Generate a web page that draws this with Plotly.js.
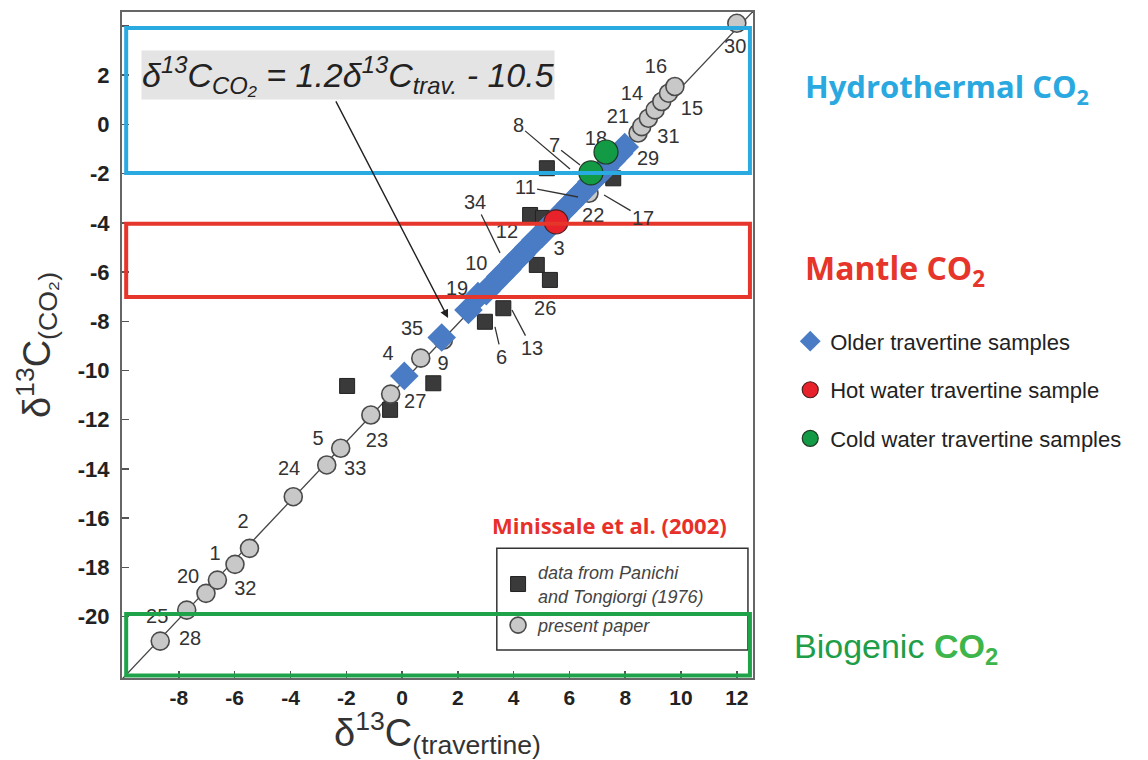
<!DOCTYPE html>
<html>
<head>
<meta charset="utf-8">
<script src="https://cdn.plot.ly/plotly-3.0.1.min.js"></script>
<style>html,body{margin:0;padding:0;background:#fff;}#chart{width:1148px;height:760px;}</style>
</head>
<body>
<div id="chart"></div>
<script>
// ---- Data ----
// Regression stated in the figure: d13C(CO2) = 1.2 d13C(trav) - 10.5
const slope = 1.2;
const intercept = -10.5;
const lineX = [-10.1, 12.6];

// present paper (grey circles)
const circX = [-8.67, -7.72, -7.03, -6.62, -5.99, -5.47, -3.90, -2.70, -2.20, -1.12, -0.41, 0.67, 1.48, 6.70, 8.46, 8.59, 8.83, 9.07, 9.31, 9.55, 9.78, 12.0];
const circY = [-21.00, -19.74, -19.06, -18.52, -17.88, -17.23, -15.13, -13.84, -13.16, -11.81, -10.96, -9.50, -8.76, -2.80, -0.35, -0.09, 0.25, 0.59, 0.93, 1.27, 1.54, 4.11];

// data from Panichi and Tongiorgi (1976) (black squares)
const sqX = [5.19, 7.57, 4.59, 5.05, 4.83, 5.30, 3.63, 2.97, 1.12, -0.43, -1.97];
const sqY = [-1.78, -2.19, -3.68, -3.80, -5.71, -6.32, -7.47, -8.02, -10.52, -11.60, -10.63];

// Older travertine samples (blue diamonds)
const diaX = [0.08, 1.42, 2.38, 2.72, 3.02, 3.28, 3.52, 3.78, 4.02, 4.28, 4.52, 4.78, 5.02, 5.28, 5.52, 5.78, 6.02, 6.28, 6.52, 6.78, 7.02, 7.28, 7.52, 7.78, 7.98];
const diaY = [-10.22, -8.66, -7.54, -6.98, -6.78, -6.48, -6.18, -5.90, -5.58, -5.30, -5.00, -4.70, -4.44, -4.12, -3.84, -3.52, -3.24, -2.94, -2.66, -2.34, -2.06, -1.78, -1.48, -1.18, -0.92];

// Hot water travertine sample (red) / Cold water travertine samples (green)
const hotX = [5.52];
const hotY = [-3.96];
const coldX = [6.77, 7.31];
const coldY = [-1.97, -1.12];

// sample number labels without leader lines
const labText = ['30','16','14','15','21','31','29','18','22','12','3','10','19','26','35','4','9','27','23','5','33','24','2','1','32','20','25','28'];
const labX = [11.94, 9.10, 8.24, 10.39, 7.74, 9.55, 8.82, 6.95, 6.85, 3.76, 5.63, 2.66, 1.97, 5.13, 0.36, -0.50, 1.47, 0.47, -0.90, -3.01, -1.68, -4.05, -5.70, -6.70, -5.62, -7.67, -8.78, -7.60];
const labY = [3.11, 2.30, 1.20, 0.59, 0.26, -0.55, -1.44, -0.63, -3.76, -4.41, -5.10, -5.70, -6.73, -7.54, -8.35, -9.37, -9.78, -11.34, -12.90, -12.83, -14.04, -14.04, -16.20, -17.50, -18.92, -18.43, -20.05, -20.96];

// labels with leader lines: text position -> pointed position
const leadText = ['8','7','11','17','34','13','6'];
const leadTx = [4.16, 5.45, 4.41, 8.64, 2.62, 4.66, 3.58];
const leadTy = [-0.02, -0.83, -2.54, -3.80, -3.15, -9.09, -9.45];
const leadPx = [6.02, 6.38, 6.31, 7.24, 3.51, 3.94, 3.33];
const leadPy = [-1.81, -1.65, -2.95, -2.87, -5.22, -7.54, -8.23];

const xTicks = [-8, -6, -4, -2, 0, 2, 4, 6, 8, 10, 12];
const xTickText = ['-8','-6','-4','-2','0','2','4','6','8','10','12'];
const yTicks = [-20, -18, -16, -14, -12, -10, -8, -6, -4, -2, 0, 2, 4];
const yTickText = ['-20','-18','-16','-14','-12','-10','-8','-6','-4','-2','0','2',''];

// ---- Chart ----
const F = 'Liberation Sans, Arial, sans-serif';
const lineY = lineX.map(v => slope * v + intercept);

const traces = [
  {x: lineX, y: lineY, mode: 'lines', line: {color: '#444', width: 1.3}, showlegend: false, hoverinfo: 'skip'},
  {x: sqX, y: sqY, mode: 'markers', name: 'data from Panichi<br>and Tongiorgi (1976)', legend: 'legend2', legendgroup: 'a',
   marker: {symbol: 'square', size: 15, color: '#3a3a3a', line: {color: '#222', width: 1}}},
  {x: circX, y: circY, mode: 'markers', name: 'present paper', legend: 'legend2', legendgroup: 'b',
   marker: {symbol: 'circle', size: 18, color: '#c8c8c8', line: {color: '#4a4a4a', width: 1.6}}},
  {x: labX, y: labY, text: labText, mode: 'text', textfont: {family: F, size: 20, color: '#333'}, showlegend: false, hoverinfo: 'skip'},
  {x: diaX, y: diaY, mode: 'markers', name: 'Older travertine samples', legendgroup: 'c',
   marker: {symbol: 'diamond', size: 22, color: '#4a7cc6', line: {width: 0}}},
  {x: hotX, y: hotY, mode: 'markers', name: 'Hot water travertine sample', legendgroup: 'd',
   marker: {symbol: 'circle', size: 24, color: '#e8222b', line: {color: '#4a2020', width: 1.2}}},
  {x: coldX, y: coldY, mode: 'markers', name: 'Cold water travertine samples', legendgroup: 'e',
   marker: {symbol: 'circle', size: 24, color: '#129a45', line: {color: '#1f3a25', width: 1.2}}}
];

const annotations = [];
for (let i = 0; i < leadText.length; i++) {
  annotations.push({x: leadPx[i], y: leadPy[i], ax: leadTx[i], ay: leadTy[i], axref: 'x', ayref: 'y', xref: 'x', yref: 'y',
    text: leadText[i], showarrow: true, arrowhead: 0, arrowwidth: 1.3, arrowcolor: '#333', standoff: 0,
    font: {family: F, size: 20, color: '#333'}});
}
annotations.push(
  {x: 1.65, y: -7.87, ax: -2.40, ay: 1.0, axref: 'x', ayref: 'y', xref: 'x', yref: 'y', text: '', showarrow: true,
   arrowhead: 2, arrowsize: 1.2, arrowwidth: 1.4, arrowcolor: '#222'},
  {xref: 'x', yref: 'y', x: -9.35, y: 2.0, xanchor: 'left', yanchor: 'middle', showarrow: false,
   text: 'δ<sup>13</sup>C<sub>CO₂</sub> = 1.2δ<sup>13</sup>C<sub>trav.</sub> - 10.5',
   font: {family: F, size: 34, color: '#222', style: 'italic'}, bgcolor: '#e4e4e4', borderpad: 0},
  {xref: 'paper', yref: 'paper', x: 1.079, y: 0.886, xanchor: 'left', yanchor: 'middle', showarrow: false,
   text: 'Hydrothermal CO<sub>2</sub>', font: {family: 'Open Sans, sans-serif', size: 31, color: '#2aa8e0', weight: 'bold'}},
  {xref: 'paper', yref: 'paper', x: 1.079, y: 0.613, xanchor: 'left', yanchor: 'middle', showarrow: false,
   text: 'Mantle CO<sub>2</sub>', font: {family: 'Open Sans, sans-serif', size: 32, color: '#e6352a', weight: 'bold'}},
  {xref: 'paper', yref: 'paper', x: 1.062, y: 0.045, xanchor: 'left', yanchor: 'middle', showarrow: false,
   text: 'Biogenic <span style="color:#3db54a;font-weight:bold">CO<sub>2</sub></span>',
   font: {family: F, size: 34, color: '#1e9e48'}},
  {xref: 'paper', yref: 'paper', x: 0.583, y: 0.229, xanchor: 'left', yanchor: 'middle', showarrow: false,
   text: 'Minissale et al. (2002)', font: {family: 'Open Sans, sans-serif', size: 22, color: '#e8302a', weight: 'bold'}}
);

const shapes = [
  {type: 'rect', xref: 'paper', yref: 'paper', x0: 0.594, x1: 0.992, y0: 0.042, y1: 0.195, line: {color: '#333', width: 1.5}, fillcolor: 'rgba(255,255,255,0)', layer: 'above'},
  {type: 'rect', xref: 'x', yref: 'y', x0: -9.89, x1: 12.47, y0: -1.97, y1: 3.92, line: {color: '#29aae1', width: 4}, layer: 'above'},
  {type: 'rect', xref: 'x', yref: 'y', x0: -9.89, x1: 12.47, y0: -7.01, y1: -4.04, line: {color: '#e6352a', width: 4}, layer: 'above'},
  {type: 'rect', xref: 'x', yref: 'y', x0: -9.89, x1: 12.47, y0: -22.4, y1: -19.9, line: {color: '#1ea34a', width: 4}, layer: 'above'}
];

const layout = {
  width: 1148, height: 760,
  margin: {l: 122, r: 395, t: 12, b: 82},
  paper_bgcolor: '#fff', plot_bgcolor: '#fff',
  font: {family: F, color: '#222'},
  xaxis: {range: [-10.04, 12.58], tickvals: xTicks, ticktext: xTickText, ticks: 'inside', ticklen: 7, tickwidth: 1.5, tickcolor: '#555',
    showline: true, linecolor: '#666', linewidth: 2, mirror: true, showgrid: false, zeroline: false,
    tickfont: {family: F, size: 21, color: '#222', weight: 'bold'},
    title: {text: 'δ<sup>13</sup>C<sub>(travertine)</sub>', font: {family: F, size: 38, color: '#333'}, standoff: 2}},
  yaxis: {range: [-22.5, 4.57], tickvals: yTicks, ticktext: yTickText, ticks: 'inside', ticklen: 7, tickwidth: 1.5, tickcolor: '#555',
    showline: true, linecolor: '#666', linewidth: 2, mirror: true, showgrid: false, zeroline: false, ticklabelstandoff: 6,
    tickfont: {family: F, size: 22, color: '#222', weight: 'bold'},
    title: {text: 'δ<sup>13</sup>C<sub>(CO₂)</sub>', font: {family: F, size: 38, color: '#333'}, standoff: 16}},
  legend: {x: 1.059, y: 0.537, xanchor: 'left', yanchor: 'top', bgcolor: 'rgba(0,0,0,0)', tracegroupgap: 17,
    font: {family: F, size: 22, color: '#222'}},
  legend2: {x: 0.596, y: 0.186, xanchor: 'left', yanchor: 'top', bgcolor: 'rgba(0,0,0,0)', tracegroupgap: 3,
    font: {family: F, size: 18, color: '#444', style: 'italic'}},
  annotations: annotations,
  shapes: shapes
};

Plotly.newPlot('chart', traces, layout, {displayModeBar: false, staticPlot: true});
</script>
</body>
</html>
